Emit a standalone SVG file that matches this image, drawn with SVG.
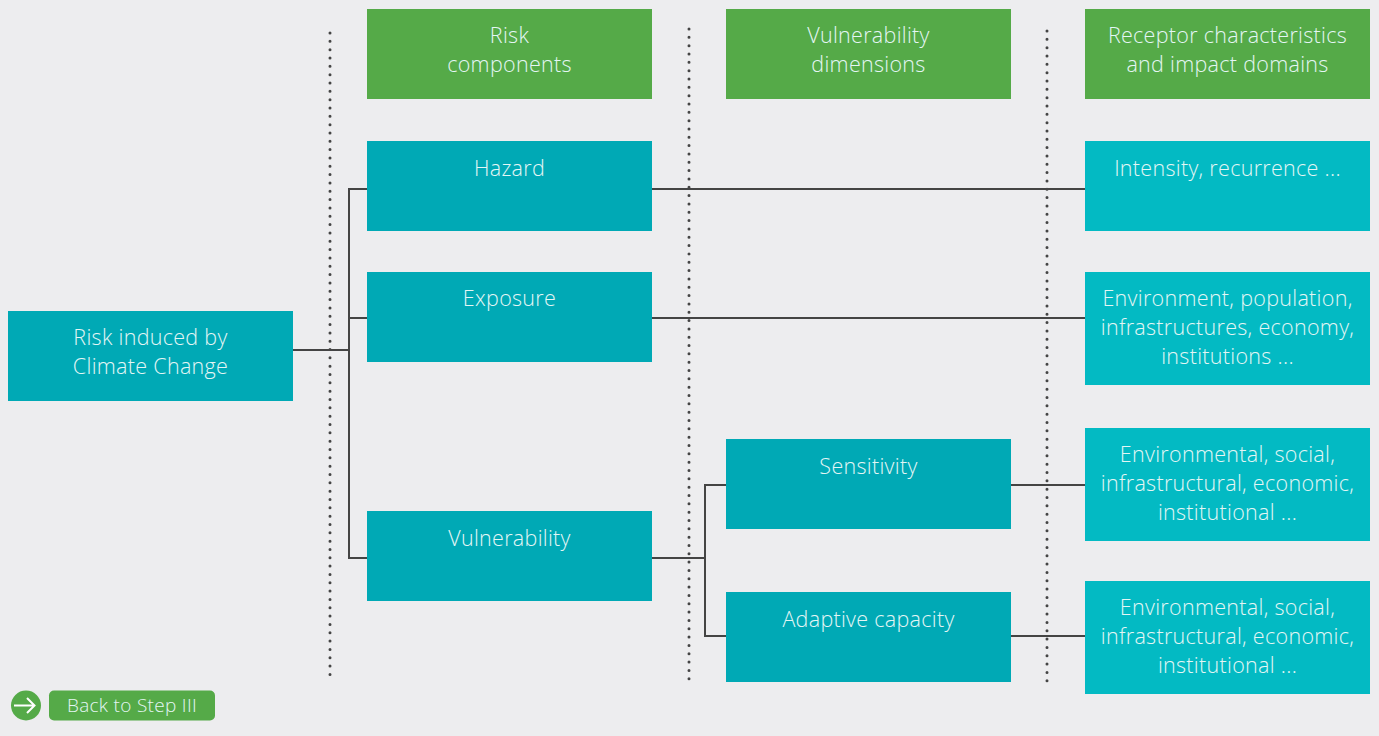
<svg xmlns="http://www.w3.org/2000/svg" width="1379" height="736" viewBox="0 0 1379 736">
<style>
.hd{fill:#55AA48}
.bx{fill:#00A9B5}
.rc{fill:#03BAC3}
.t{font-family:"Open Sans","Liberation Sans",sans-serif;font-weight:300;font-size:21.5px;letter-spacing:0.3px;fill:#E4F6F5;text-anchor:middle}
.ln{stroke:#444;stroke-width:2;fill:none}
.dot{stroke:#444;stroke-width:3;stroke-linecap:round;stroke-dasharray:0 8.33;fill:none}
</style>
<rect width="1379" height="736" fill="#EDEDEF"/>
<g id="separators">
<line class="dot" x1="330" y1="33" x2="330" y2="676"/>
<line class="dot" x1="689" y1="29" x2="689" y2="679"/>
<line class="dot" x1="1047" y1="31" x2="1047" y2="681"/>
</g>
<g id="connectors">
<polyline class="ln" points="293,350 349,350"/>
<polyline class="ln" points="367,189 349,189 349,558 367,558"/>
<polyline class="ln" points="349,318 367,318"/>
<polyline class="ln" points="652,189 1085,189"/>
<polyline class="ln" points="652,318 1085,318"/>
<polyline class="ln" points="652,558 705,558"/>
<polyline class="ln" points="726,485 705,485 705,636 726,636"/>
<polyline class="ln" points="1011,485 1085,485"/>
<polyline class="ln" points="1011,636 1085,636"/>
</g>
<g id="h-risk"><rect class="hd" x="367" y="9" width="285" height="90"/><text class="t" x="509.5" y="43">Risk</text><text class="t" x="509.5" y="72">components</text></g>
<g id="h-vuln"><rect class="hd" x="726" y="9" width="285" height="90"/><text class="t" x="868.5" y="43">Vulnerability</text><text class="t" x="868.5" y="72">dimensions</text></g>
<g id="h-receptor"><rect class="hd" x="1085" y="9" width="285" height="90"/><text class="t" x="1227.5" y="43">Receptor characteristics</text><text class="t" x="1227.5" y="72">and impact domains</text></g>
<g id="risk"><rect class="bx" x="8" y="311" width="285" height="90"/><text class="t" x="150.5" y="345">Risk induced by</text><text class="t" x="150.5" y="374">Climate Change</text></g>
<g id="hazard"><rect class="bx" x="367" y="141" width="285" height="90"/><text class="t" x="509.5" y="176">Hazard</text></g>
<g id="exposure"><rect class="bx" x="367" y="272" width="285" height="90"/><text class="t" x="509.5" y="306">Exposure</text></g>
<g id="vulnerability"><rect class="bx" x="367" y="511" width="285" height="90"/><text class="t" x="509.5" y="546">Vulnerability</text></g>
<g id="sensitivity"><rect class="bx" x="726" y="439" width="285" height="90"/><text class="t" x="868.5" y="474">Sensitivity</text></g>
<g id="adaptive"><rect class="bx" x="726" y="592" width="285" height="90"/><text class="t" x="868.5" y="627">Adaptive capacity</text></g>
<g id="r-hazard"><rect class="rc" x="1085" y="141" width="285" height="90"/><text class="t" x="1227.5" y="176">Intensity, recurrence ...</text></g>
<g id="r-exposure"><rect class="rc" x="1085" y="272" width="285" height="113"/><text class="t" x="1227.5" y="306">Environment, population,</text><text class="t" x="1227.5" y="335">infrastructures, economy,</text><text class="t" x="1227.5" y="364">institutions ...</text></g>
<g id="r-sensitivity"><rect class="rc" x="1085" y="428" width="285" height="113"/><text class="t" x="1227.5" y="462">Environmental, social,</text><text class="t" x="1227.5" y="491">infrastructural, economic,</text><text class="t" x="1227.5" y="520">institutional ...</text></g>
<g id="r-adaptive"><rect class="rc" x="1085" y="581" width="285" height="113"/><text class="t" x="1227.5" y="615">Environmental, social,</text><text class="t" x="1227.5" y="644">infrastructural, economic,</text><text class="t" x="1227.5" y="673">institutional ...</text></g>
<g id="back">
<circle cx="26" cy="705.5" r="15" fill="#55AA48"/>
<path d="M14,705.5 H34 M27,698 L34.5,705.5 L27,713" stroke="#fff" stroke-width="2" fill="none"/>
<rect x="49" y="690.5" width="166" height="30" rx="5" fill="#55AA48"/>
<text class="t" x="132" y="712" style="font-size:19px">Back to Step III</text>
</g>
</svg>
